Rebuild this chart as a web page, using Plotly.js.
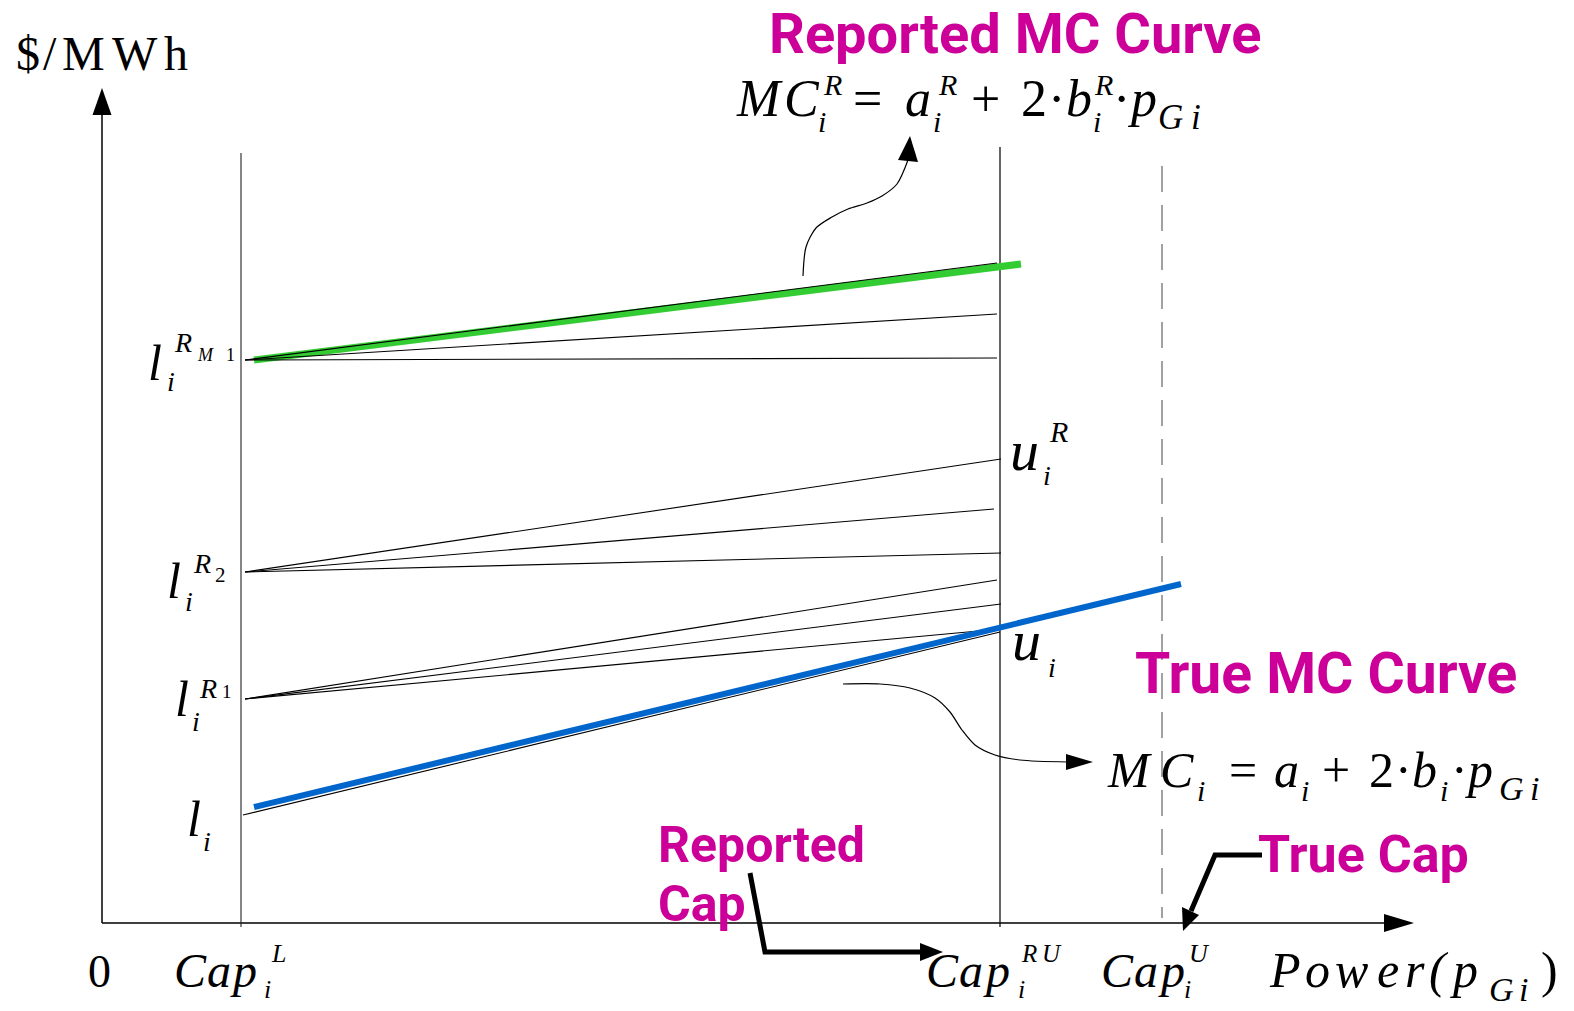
<!DOCTYPE html>
<html><head><meta charset="utf-8">
<script src="https://cdn.plot.ly/plotly-3.0.1.min.js"></script>
<style>html,body{margin:0;padding:0;background:#fff;overflow:hidden}</style>
</head><body><div id="chart" style="width:1574px;height:1011px"></div>
<script>
// ---- diagram values (power axis = x, price axis = y, in diagram units) ----
const capNames = ['Cap_i^L', 'Cap_i^RU', 'Cap_i^U'];
const capX = [241, 1000, 1162];
const capTop = [153, 147, 166];
const axisY = 923;           // price = 0
const axisX = 102;           // power = 0

const interceptNames = ['l_i^RM1', 'l_i^R2', 'l_i^R1', 'l_i'];
const interceptY = [360, 572, 699, 815];
const fanStartX = 245;

// end prices at Cap^RU of the candidate reported curves
const fanRM1EndX = [997, 997, 997];
const fanRM1EndY = [263, 314, 358];
const fanR2EndX = [1001, 994, 1001];
const fanR2EndY = [459, 509, 553];
const fanR1EndX = [997, 1001, 1000];
const fanR1EndY = [580, 604, 629];
const fanLEndX = [1000];
const fanLEndY = [632];

// reported and true marginal cost curves
const reportedMCx = [254, 1021];
const reportedMCy = [360, 264];
const trueMCx = [254, 1181];
const trueMCy = [807, 584];

// pointer curves
const repPointerX = [803, 806, 816, 832, 848, 867, 882, 897, 908];
const repPointerY = [276, 247, 228, 217, 209, 203, 196, 184, 160];
const truePointerX = [843, 880, 910, 935, 950, 962, 975, 995, 1020, 1068];
const truePointerY = [684, 684, 688, 698, 712, 730, 745, 755, 760, 762];
const repCapPointerX = [750, 765, 922];
const repCapPointerY = [873, 952, 952];
const trueCapPointerX = [1262, 1215, 1191];
const trueCapPointerY = [855, 855, 911];

const MAGENTA = '#CC0099';
const SERIF = 'Liberation Serif, Times New Roman, serif';
const SANS = 'Roboto, Arial, sans-serif';

const traces = [];
function L(xs, ys, color, width, dash, shape) {
  traces.push({x: xs, y: ys, mode: 'lines', type: 'scatter', hoverinfo: 'skip',
    line: {color: color, width: width, dash: dash || 'solid', shape: shape || 'linear', smoothing: 0.8}});
}

// axes
L([axisX, axisX], [axisY, 112], '#000', 1.5);
L([axisX, 1388], [axisY, axisY], '#000', 1.5);
// capacity verticals
L([capX[0], capX[0]], [capTop[0], 927], '#222', 1.1);
L([capX[1], capX[1]], [capTop[1], 927], '#111', 1.3);
L([capX[2], capX[2]], [capTop[2], 918], '#555', 1.1, '26px,13px');

// green reported MC curve
L(reportedMCx, reportedMCy, '#33CC33', 7);
// fans
for (let k = 0; k < 3; k++) L([fanStartX, fanRM1EndX[k]], [interceptY[0], fanRM1EndY[k]], '#000', 1.1);
for (let k = 0; k < 3; k++) L([fanStartX, fanR2EndX[k]], [interceptY[1], fanR2EndY[k]], '#000', 1.1);
for (let k = 0; k < 3; k++) L([fanStartX, fanR1EndX[k]], [interceptY[2], fanR1EndY[k]], '#000', 1.1);
L([243, fanLEndX[0]], [interceptY[3], fanLEndY[0]], '#000', 1.1);
// blue true MC curve
L(trueMCx, trueMCy, '#0066CC', 6);

// pointers
L(repPointerX, repPointerY, '#000', 1.2, 'solid', 'spline');
L(truePointerX, truePointerY, '#000', 1.2, 'solid', 'spline');
L(repCapPointerX, repCapPointerY, '#000', 5);
L(trueCapPointerX, trueCapPointerY, '#000', 5);

function tri(p) {
  return {type: 'path', xref: 'x', yref: 'y', fillcolor: '#000', line: {width: 0},
    path: 'M' + p[0] + ',' + p[1] + ' L' + p[2] + ',' + p[3] + ' L' + p[4] + ',' + p[5] + ' Z'};
}
const shapes = [
  tri([axisX, 88, axisX - 9.5, 115, axisX + 9.5, 115]),
  tri([1414, axisY, 1384, axisY - 9, 1384, axisY + 9]),
  tri([910, 136, 898, 160, 918, 162]),
  tri([1093, 762, 1066, 754, 1066, 770]),
  tri([943, 952, 920, 943, 920, 961]),
  tri([1183, 931, 1182, 907, 1199, 915])
];

const ann = [];
function T(x, base, text, size, o) {
  o = o || {};
  ann.push({x: x, y: base - 0.34 * size, xref: 'x', yref: 'y', text: text, showarrow: false,
    xanchor: o.anchor || 'left', yanchor: 'middle', borderpad: 0,
    font: {family: o.family || SERIF, size: size, color: o.color || '#000',
      style: o.upright ? 'normal' : 'italic', weight: o.bold ? 'bold' : 'normal'}});
}
// place glyphs one by one (the equation-editor spacing of the reference)
function G(xs, base, chars, size, o) {
  for (let k = 0; k < chars.length; k++) T(xs[k], base, chars[k], size, o);
}
const up = {upright: true};

// axis title
G([15, 42, 61, 111, 163], 70, ['$', '/', 'M', 'W', 'h'], 48, up);

// magenta headings
const head = {family: SANS, bold: true, color: MAGENTA, upright: true};
T(1015, 53, 'Reported MC Curve', 56, Object.assign({anchor: 'center'}, head));
T(1326, 693, 'True MC Curve', 57, Object.assign({anchor: 'center'}, head));
T(657, 862, 'Reported', 50, head);
T(657, 921, 'Cap', 50, head);
T(1363, 872, 'True Cap', 52, Object.assign({anchor: 'center'}, head));

// top equation: MC_i^R = a_i^R + 2·b_i^R·p_Gi
G([735, 783], 116, ['M', 'C'], 52);
T(817, 132, 'i', 30); T(822, 95, 'R', 30);
T(852, 116, '=', 52, up);
T(904, 116, 'a', 52);
T(932, 132, 'i', 30); T(937, 95, 'R', 30);
T(970, 116, '+', 52, up);
T(1020, 116, '2', 52, up);
T(1047, 116, '·', 52, up);
T(1065, 116, 'b', 52);
T(1092, 132, 'i', 30); T(1093, 95, 'R', 30);
T(1112, 116, '·', 52, up);
T(1126, 116, 'p', 52);
G([1157, 1190], 129, ['G', 'i'], 35);

// true equation: MC_i = a_i + 2·b_i·p_Gi
G([1106, 1159], 787, ['M', 'C'], 50);
T(1196, 801, 'i', 30);
T(1228, 787, '=', 50, up);
T(1273, 787, 'a', 50);
T(1300, 801, 'i', 30);
T(1321, 787, '+', 50, up);
T(1368, 787, '2', 50, up);
T(1394, 787, '·', 50, up);
T(1411, 787, 'b', 50);
T(1439, 801, 'i', 30);
T(1450, 787, '·', 50, up);
T(1464, 787, 'p', 50);
G([1498, 1529], 800, ['G', 'i'], 34);

// intercept labels
T(147, 380, 'l', 50); T(166, 391, 'i', 28); T(173, 352, 'R', 28); T(196, 361, 'M', 18); T(225, 361, '1', 18, up);
T(166, 598, 'l', 50); T(184, 611, 'i', 28); T(192, 573, 'R', 28); T(214, 582, '2', 21, up);
T(174, 716, 'l', 50); T(191, 731, 'i', 28); T(198, 698, 'R', 28); T(221, 698, '1', 19, up);
T(186, 836, 'l', 50); T(202, 851, 'i', 28);
// end labels
T(1009, 470, 'u', 58); T(1042, 485, 'i', 28); T(1048, 442, 'R', 30);
T(1011, 660, 'u', 58); T(1047, 677, 'i', 28);

// bottom labels
T(87, 987, '0', 46, up);
G([173, 206, 229], 987, ['C', 'a', 'p'], 48); T(270, 962, 'L', 26); T(263, 998, 'i', 26);
G([925, 958, 982], 987, ['C', 'a', 'p'], 48); G([1020, 1041], 962, ['R', 'U'], 25); T(1017, 998, 'i', 26);
G([1100, 1133, 1157], 987, ['C', 'a', 'p'], 48); T(1188, 962, 'U', 26); T(1183, 998, 'i', 26);
G([1268, 1304, 1334, 1376, 1404, 1428, 1449], 987, ['P', 'o', 'w', 'e', 'r', '(', 'p'], 50);
G([1488, 1518], 1001, ['G', 'i'], 34);
T(1540, 987, ')', 50, up);

const layout = {
  width: 1574, height: 1011,
  margin: {l: 0, r: 0, t: 0, b: 0, pad: 0},
  paper_bgcolor: '#fff', plot_bgcolor: '#fff',
  showlegend: false, hovermode: false,
  xaxis: {range: [0, 1574], visible: false, fixedrange: true},
  yaxis: {range: [1011, 0], visible: false, fixedrange: true},
  shapes: shapes,
  annotations: ann
};
Plotly.newPlot('chart', traces, layout, {displayModeBar: false, staticPlot: true});
</script></body></html>
